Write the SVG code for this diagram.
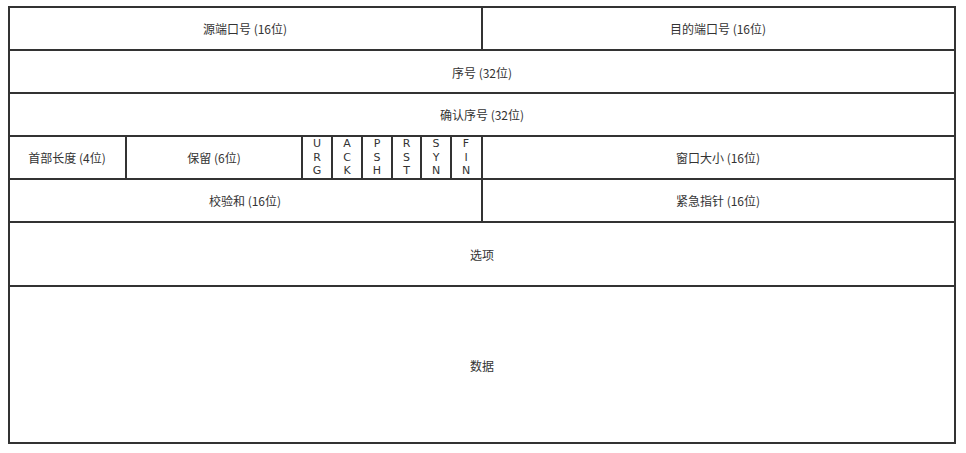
<svg xmlns="http://www.w3.org/2000/svg" width="966" height="453" viewBox="0 0 966 453">
<style>
.c{fill:#fff;stroke:#333;stroke-width:2}
.t{font-family:"Noto Sans CJK SC","Liberation Sans",sans-serif;font-size:12px;fill:#333;text-anchor:middle;dominant-baseline:central}
.f{font-family:"DejaVu Sans","Liberation Sans",sans-serif;font-size:11px;fill:#333;text-anchor:middle;dominant-baseline:central}
</style>
<rect width="966" height="453" fill="#fff"/>
<g id="src"><rect class="c" x="9" y="7" width="473" height="43"/><text class="t" x="245" y="28">源端口号 (16位)</text></g>
<g id="dst"><rect class="c" x="482" y="7" width="473" height="43"/><text class="t" x="718" y="28">目的端口号 (16位)</text></g>
<g id="seq"><rect class="c" x="9" y="50" width="946" height="43"/><text class="t" x="482" y="72">序号 (32位)</text></g>
<g id="ack"><rect class="c" x="9" y="93" width="946" height="43"/><text class="t" x="482" y="114">确认序号 (32位)</text></g>
<g id="hlen"><rect class="c" x="9" y="136" width="117" height="43"/><text class="t" x="67" y="157">首部长度 (4位)</text></g>
<g id="rsv"><rect class="c" x="126" y="136" width="176" height="43"/><text class="t" x="214" y="157">保留 (6位)</text></g>
<g id="urg"><rect class="c" x="302" y="136" width="30" height="43"/><text class="f" x="317" y="143">U</text><text class="f" x="317" y="157">R</text><text class="f" x="317" y="170">G</text></g>
<g id="ackf"><rect class="c" x="332" y="136" width="30" height="43"/><text class="f" x="347" y="143">A</text><text class="f" x="347" y="157">C</text><text class="f" x="347" y="170">K</text></g>
<g id="psh"><rect class="c" x="362" y="136" width="30" height="43"/><text class="f" x="377" y="143">P</text><text class="f" x="377" y="157">S</text><text class="f" x="377" y="170">H</text></g>
<g id="rst"><rect class="c" x="392" y="136" width="29" height="43"/><text class="f" x="406.5" y="143">R</text><text class="f" x="406.5" y="157">S</text><text class="f" x="406.5" y="170">T</text></g>
<g id="syn"><rect class="c" x="421" y="136" width="30" height="43"/><text class="f" x="436" y="143">S</text><text class="f" x="436" y="157">Y</text><text class="f" x="436" y="170">N</text></g>
<g id="fin"><rect class="c" x="451" y="136" width="31" height="43"/><text class="f" x="466" y="143">F</text><text class="f" x="466" y="157">I</text><text class="f" x="466" y="170">N</text></g>
<g id="win"><rect class="c" x="482" y="136" width="473" height="43"/><text class="t" x="718" y="157">窗口大小 (16位)</text></g>
<g id="chk"><rect class="c" x="9" y="179" width="473" height="43"/><text class="t" x="245" y="200">校验和 (16位)</text></g>
<g id="urp"><rect class="c" x="482" y="179" width="473" height="43"/><text class="t" x="718" y="200">紧急指针 (16位)</text></g>
<g id="opt"><rect class="c" x="9" y="222" width="946" height="64"/><text class="t" x="482" y="254">选项</text></g>
<g id="data"><rect class="c" x="9" y="286" width="946" height="157"/><text class="t" x="482" y="365">数据</text></g>
<g id="connectors"></g>
</svg>
